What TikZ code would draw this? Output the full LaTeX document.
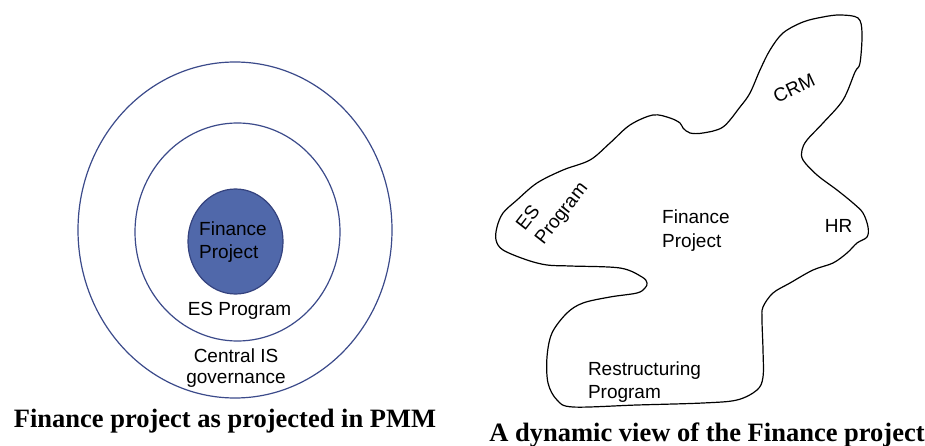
\documentclass[tikz,border=0pt]{standalone}
\usepackage{xcolor}
\usepackage{fontspec}
\usepackage{tikz}
\usetikzlibrary{shapes.geometric}

\newfontfamily\labelfont{Liberation Sans}
\newfontfamily\captfont{Liberation Serif}
\definecolor{ringblue}{HTML}{3B4A8A}
\definecolor{coreline}{HTML}{34427E}
\definecolor{corefill}{HTML}{5068AA}

\begin{document}
\begin{tikzpicture}[x=1pt, y=-1pt,
    ring/.style={ellipse, draw=ringblue, line width=1.2pt, inner sep=0pt},
    lbl/.style={font=\labelfont\fontsize{19pt}{23.5pt}\selectfont, inner sep=0pt, align=left},
    capt/.style={font=\captfont\bfseries\fontsize{26.5pt}{30pt}\selectfont, inner sep=0pt, anchor=base},
    blobline/.style={draw=black, line width=1.2pt, line join=round}]
    \useasboundingbox (0,0) rectangle (925,446);

    \node (governance) [ring, minimum width=314pt, minimum height=336pt] at (235,230) {};
    \node (esring) [ring, minimum width=205pt, minimum height=218pt] at (237.5,232) {};
    \node (core) [ring, draw=coreline, fill=corefill, minimum width=95pt, minimum height=105pt] at (235.5,241.5) {};
    \node (coretext) [lbl] at (233,242) {Finance\\Project};
    \node (estext) [lbl] at (239.5,311) {ES Program};
    \node (govtext) [lbl, align=center, font=\labelfont\fontsize{19pt}{21pt}\selectfont] at (236,368) {Central IS\\governance};
    \node (leftcap) [capt] at (225,427) {Finance project as projected in PMM};

    \draw[blobline] plot[smooth cycle, tension=0.55] coordinates {
        (840,15) (858,18) (862,33) (860,63) (855,72) (843,100) (823,123) (807,140)
        (802,150) (803,160) (817,175) (837,190) (853,203) (863,213) (868,227) (867,237)
        (857,243) (847,253) (833,263) (813,270) (790,283) (773,293) (763,307) (762,320)
        (763,350) (763,377) (757,390) (737,400) (703,403) (637,405) (573,407) (557,400)
        (548,383) (547,357) (552,333) (567,313) (583,303) (610,297) (637,293) (645,288)
        (647,283) (642,277) (620,268) (570,266) (547,265) (527,260) (503,250) (496,240)
        (497,227) (503,213) (517,200) (537,183) (563,170) (590,160) (610,143) (630,125)
        (653,115) (670,118) (680,123) (683,128) (690,133) (703,133) (723,127) (740,107)
        (750,93) (760,70) (770,50) (783,33) (803,22) (823,17)};
    \node (crm) [lbl, rotate=25] at (794,88) {CRM};
    \node (esprog) [lbl, rotate=52] at (553,207) {ES\\Program};
    \node (fintext) [lbl] at (696,230.5) {Finance\\Project};
    \node (hr) [lbl] at (838.5,226) {HR};
    \node (restruct) [lbl] at (644.5,382) {Restructuring\\Program};
    \node (rightcap) [capt] at (707,441) {A dynamic view of the Finance project};
\end{tikzpicture}
\end{document}
